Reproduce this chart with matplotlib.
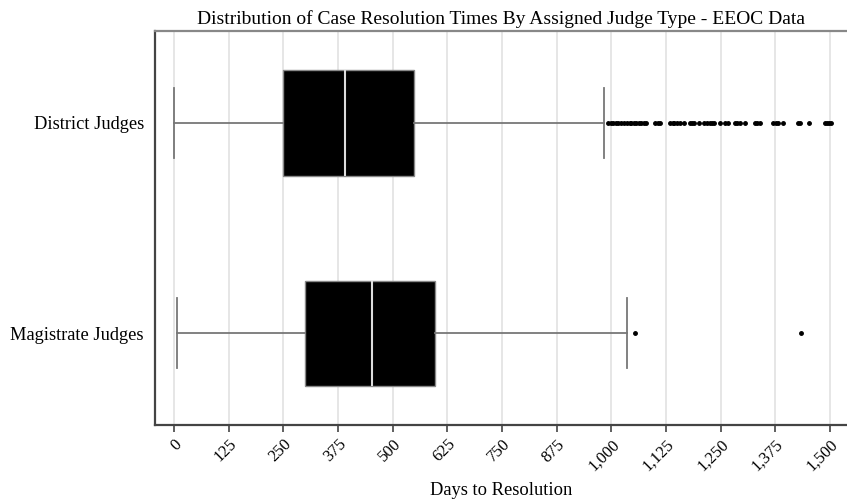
import matplotlib
matplotlib.use('Agg')
import matplotlib.pyplot as plt

# box statistics (days)
groups = ['District Judges', 'Magistrate Judges']
whislo = [0, 7]
q1 = [250, 300]
med = [392, 452]
q3 = [548, 596]
whishi = [984, 1037]
fliers_district = [993, 1000, 1005, 1010, 1016, 1022, 1028, 1037, 1042, 1046, 1052,
                   1057, 1063, 1069, 1075, 1080, 1101, 1106, 1112, 1135, 1140, 1144,
                   1150, 1156, 1167, 1179, 1184, 1190, 1200, 1213, 1219, 1225, 1231,
                   1236, 1248, 1259, 1268, 1282, 1287, 1294, 1305, 1328, 1334, 1339,
                   1369, 1376, 1381, 1392, 1427, 1431, 1452, 1488, 1493, 1497, 1503]
fliers_magistrate = [1055, 1433]
xticks = list(range(0, 1501, 125))

plt.rcParams['font.family'] = ['Liberation Serif', 'DejaVu Serif']

fig = plt.figure(figsize=(8.47, 4.99), dpi=100)
ax = fig.add_axes([0.183, 0.148, 0.818, 0.79])

stats = []
for i, name in enumerate(groups):
    stats.append({
        'label': name,
        'whislo': whislo[i], 'q1': q1[i], 'med': med[i],
        'q3': q3[i], 'whishi': whishi[i],
        'fliers': [fliers_district, fliers_magistrate][i],
    })

ax.bxp(stats, positions=[1, 2], vert=False, widths=0.5, patch_artist=True,
       boxprops=dict(facecolor='black', edgecolor='#888888', linewidth=1),
       medianprops=dict(color='#dddddd', linewidth=1.5),
       whiskerprops=dict(color='#777777', linewidth=1.3),
       capprops=dict(color='#777777', linewidth=1.3),
       capwidths=0.333,
       flierprops=dict(marker='o', markerfacecolor='black', markeredgecolor='black',
                       markersize=2.5, linestyle='none'))

ax.set_ylim(2.438, 0.562)
ax.set_xlim(-43.6, 1541)
ax.set_xticks(xticks)
ax.set_xticklabels([f'{t:,}' for t in xticks], rotation=45, ha='right',
                   rotation_mode='anchor', fontsize=12)
ax.tick_params(axis='x', direction='out', length=5, width=1.2, color='#444444', pad=3)
ax.tick_params(axis='y', length=0, labelsize=13.2, pad=8)
ax.grid(axis='x', color='#e2e2e2', linewidth=1.2)
ax.set_axisbelow(True)

for side in ['left', 'bottom']:
    ax.spines[side].set_color('#444444')
    ax.spines[side].set_linewidth(1.6)
ax.spines['top'].set_color('#888888')
ax.spines['top'].set_linewidth(1.6)
ax.spines['right'].set_visible(False)

ax.set_title('Distribution of Case Resolution Times By Assigned Judge Type - EEOC Data',
             fontsize=14, pad=5)
ax.set_xlabel('Days to Resolution', fontsize=13.3, labelpad=6)

fig.savefig('out.png', dpi=100)
